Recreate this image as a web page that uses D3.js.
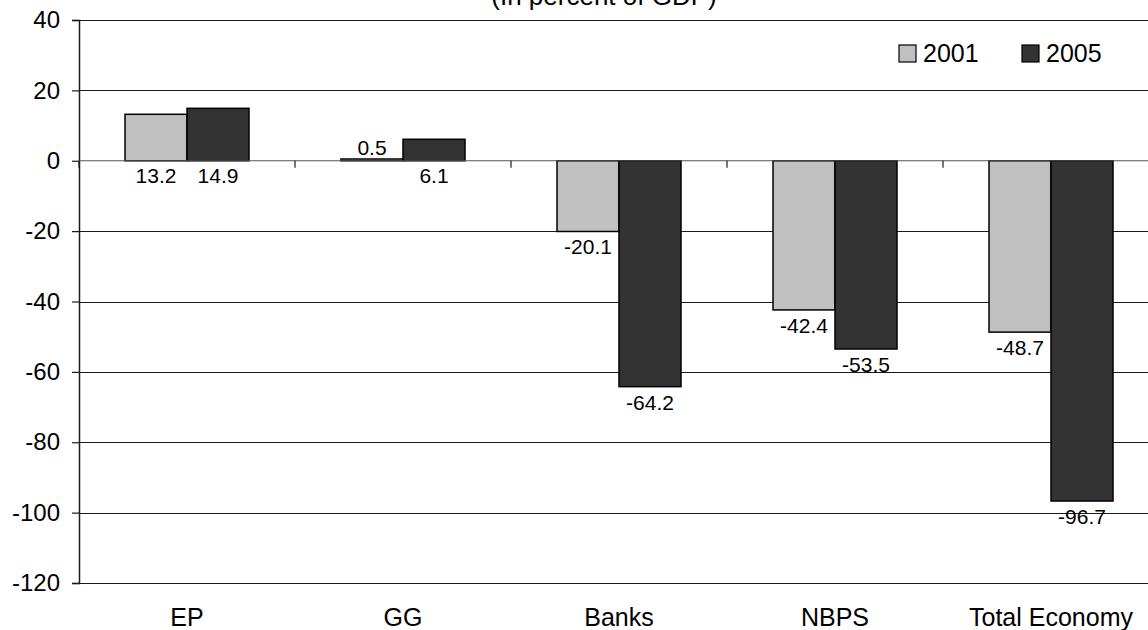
<!DOCTYPE html>
<html>
<head>
<meta charset="utf-8">
<script src="https://cdn.jsdelivr.net/npm/d3@7"></script>
<style>
  html, body { margin: 0; padding: 0; background: #fff; }
  svg { display: block; font-family: Arial, "Liberation Sans", sans-serif; }
</style>
</head>
<body>
<svg id="chart" width="1148" height="630"></svg>
<script>
// Sector balances, in percent of GDP
const categories = ["EP", "GG", "Banks", "NBPS", "Total Economy"];
const seriesNames = ["2001", "2005"];
const values2001 = [13.2, 0.5, -20.1, -42.4, -48.7];
const values2005 = [14.9, 6.1, -64.2, -53.5, -96.7];
const yTicks = [40, 20, 0, -20, -40, -60, -80, -100, -120];
// Where each value label sits: "below" the zero line, "above" it, or at the bar "end"
const labelPos2001 = ["below", "above", "end", "end", "end"];
const labelPos2005 = ["below", "below", "end", "end", "end"];

const colors = { "2001": "#c0c0c0", "2005": "#333333" };

// Plain hyphen for negative numbers
const hyphen = f => v => f(v).replace("\u2212", "-");

const svg = d3.select("#chart");
const plot = { left: 79, top: 20, bottom: 583, band: 216 };

const x = d3.scaleBand()
  .domain(categories)
  .range([plot.left, plot.left + plot.band * categories.length])
  .paddingInner(0).paddingOuter(0);

const y = d3.scaleLinear().domain([-120, 40]).range([plot.bottom, plot.top]);

const barW = 62;
const xSub = d3.scaleBand().domain(seriesNames)
  .range([(x.bandwidth() - 2 * barW) / 2, (x.bandwidth() + 2 * barW) / 2]);

// Title (top part clipped by the frame)
svg.append("text")
  .attr("x", 604).attr("y", 5)
  .attr("text-anchor", "middle")
  .attr("font-size", 26)
  .attr("fill", "#000")
  .text("(In percent of GDP)");

// Horizontal gridlines
svg.append("g").selectAll("line")
  .data(yTicks.filter(d => d !== 0))
  .join("line")
  .attr("x1", plot.left).attr("x2", 1148)
  .attr("y1", d => Math.round(y(d)) + 0.5).attr("y2", d => Math.round(y(d)) + 0.5)
  .attr("stroke", "#1a1a1a").attr("stroke-width", 1.2);

// Y axis
const yAxis = d3.axisLeft(y).tickValues(yTicks).tickSize(7).tickPadding(12)
  .tickFormat(hyphen(d3.format("d")));
const yg = svg.append("g").attr("transform", `translate(${plot.left},0)`).call(yAxis);
yg.select(".domain").attr("stroke", "#1a1a1a").attr("stroke-width", 1.5);
yg.selectAll(".tick line").attr("stroke", "#1a1a1a").attr("stroke-width", 1.2);
yg.selectAll(".tick text").attr("font-size", 24).attr("fill", "#000")
  .attr("font-family", "Arial, 'Liberation Sans', sans-serif");

// Bars
const data = [];
categories.forEach((c, i) => {
  data.push({ cat: c, s: "2001", v: values2001[i], pos: labelPos2001[i] });
  data.push({ cat: c, s: "2005", v: values2005[i], pos: labelPos2005[i] });
});

svg.append("g").selectAll("rect")
  .data(data)
  .join("rect")
  .attr("x", d => x(d.cat) + xSub(d.s))
  .attr("width", xSub.bandwidth())
  .attr("y", d => Math.min(y(d.v), y(0)))
  .attr("height", d => Math.abs(y(d.v) - y(0)))
  .attr("fill", d => colors[d.s])
  .attr("stroke", "#000").attr("stroke-width", 1.5);

// Zero line with category separator ticks
svg.append("line")
  .attr("x1", plot.left).attr("x2", 1148)
  .attr("y1", y(0)).attr("y2", y(0))
  .attr("stroke", "#555").attr("stroke-width", 1.2);

const sepTicks = d3.range(categories.length + 1).map(i => plot.left + i * x.bandwidth());
svg.append("g").selectAll("line")
  .data(sepTicks)
  .join("line")
  .attr("x1", d => d).attr("x2", d => d)
  .attr("y1", y(0)).attr("y2", y(0) + 7)
  .attr("stroke", "#1a1a1a").attr("stroke-width", 1.2);

// Category labels along the bottom
const xg = svg.append("g").attr("transform", `translate(0,${plot.bottom})`)
  .call(d3.axisBottom(x).tickSize(0).tickPadding(25));
xg.select(".domain").remove();
xg.selectAll(".tick text").attr("font-size", 25).attr("fill", "#000")
  .attr("font-family", "Arial, 'Liberation Sans', sans-serif");

// Value labels
const fmt = hyphen(d3.format(".1f"));
svg.append("g").selectAll("text")
  .data(data)
  .join("text")
  .attr("x", d => x(d.cat) + xSub(d.s) + xSub.bandwidth() / 2)
  .attr("y", d => {
    if (d.pos === "above") return y(0) - 6;
    if (d.pos === "below") return y(0) + 22;
    return y(d.v) + 23;
  })
  .attr("text-anchor", "middle")
  .attr("font-size", 21)
  .attr("fill", "#000")
  .text(d => fmt(d.v));

// Legend
const legend = svg.append("g");
const legendX = [899, 1022];
seriesNames.forEach((s, i) => {
  legend.append("rect")
    .attr("x", legendX[i]).attr("y", 45)
    .attr("width", 17).attr("height", 17)
    .attr("fill", colors[s]).attr("stroke", "#000").attr("stroke-width", 1.2);
  legend.append("text")
    .attr("x", legendX[i] + 24).attr("y", 62)
    .attr("font-size", 25).attr("fill", "#000")
    .text(s);
});
</script>
</body>
</html>
